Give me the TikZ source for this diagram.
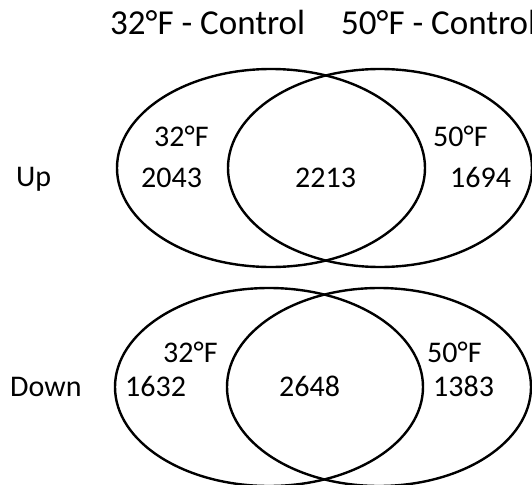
\documentclass[tikz,border=0pt]{standalone}
\usepackage{fontspec}
\setmainfont{Carlito}
\tikzset{
  setline/.style={line width=2.4pt, draw=black},
  lbl/.style={inner sep=0pt, anchor=base west, font=\fontsize{30}{36}\selectfont},
  ttl/.style={inner sep=0pt, anchor=base west, font=\fontsize{35}{42}\selectfont},
}
\begin{document}
\begin{tikzpicture}[x=1pt, y=-1pt]
  \useasboundingbox (0,0) rectangle (532,484);
  \clip (0,0) rectangle (532,484);

  % column headings
  \node[ttl] (t32) at (110,35) {32°F - Control};
  \node[ttl] (t50) at (341,35) {50°F - Control};

  % upper pair of sets
  \draw[setline] (271,168) ellipse [x radius=154, y radius=99];
  \draw[setline] (380,168) ellipse [x radius=152, y radius=99];
  \node[lbl] (up)   at (16,186)  {Up};
  \node[lbl] (u32)  at (154,146) {32°F};
  \node[lbl] (u2043) at (141,187) {2043};
  \node[lbl] (u2213) at (295,187) {2213};
  \node[lbl] (u50)  at (433,146) {50°F};
  \node[lbl] (u1694) at (450,187) {1694};

  % lower pair of sets
  \draw[setline] (269,387) ellipse [x radius=154, y radius=99];
  \draw[setline] (379,387) ellipse [x radius=152, y radius=99];
  \node[lbl] (down)  at (10,396)  {Down};
  \node[lbl] (d32)   at (163,362) {32°F};
  \node[lbl] (d1632) at (125,396) {1632};
  \node[lbl] (d2648) at (279,396) {2648};
  \node[lbl] (d50)   at (427,362) {50°F};
  \node[lbl] (d1383) at (433,396) {1383};
\end{tikzpicture}
\end{document}
